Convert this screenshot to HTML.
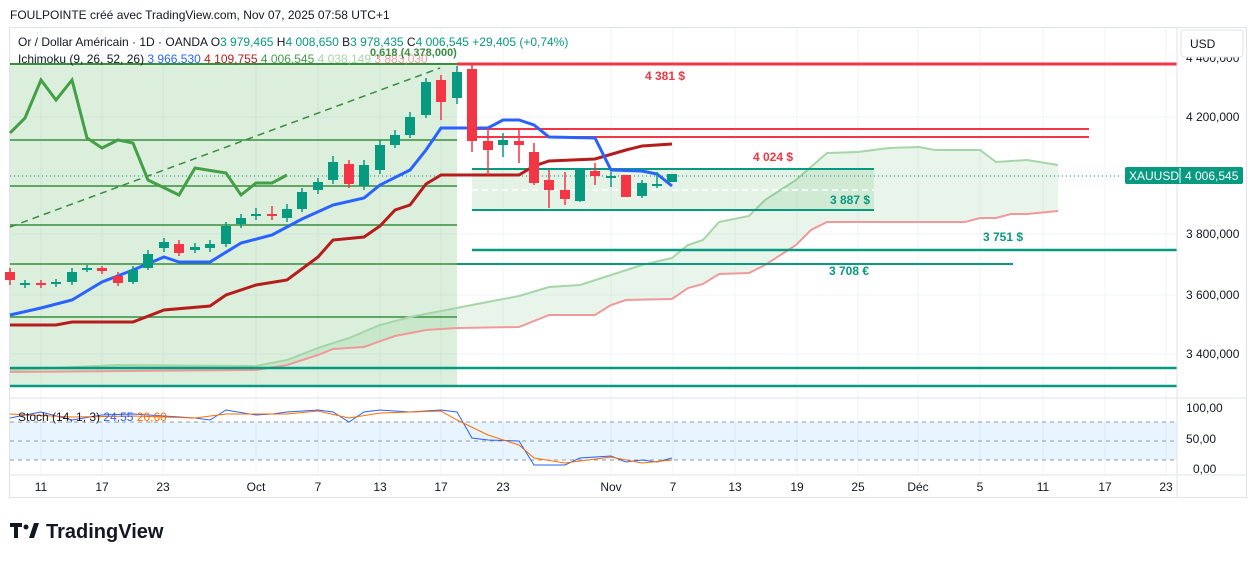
<!DOCTYPE html>
<html><head><meta charset="utf-8"><style>
body{margin:0;background:#fff;font-family:"Liberation Sans",sans-serif;}
svg{display:block}
</style></head><body>
<svg width="1257" height="561" xmlns="http://www.w3.org/2000/svg" font-family="Liberation Sans, sans-serif">
<rect width="1257" height="561" fill="#fff"/>
<text x="10" y="19" font-size="12" fill="#131722">FOULPOINTE créé avec TradingView.com, Nov 07, 2025 07:58 UTC+1</text>
<rect x="9.5" y="27.5" width="1237" height="470" fill="none" stroke="#e0e3eb"/>
<g stroke="#f0f3fa">
<line x1="41" y1="28" x2="41" y2="475"/><line x1="102" y1="28" x2="102" y2="475"/><line x1="163" y1="28" x2="163" y2="475"/><line x1="256" y1="28" x2="256" y2="475"/><line x1="318" y1="28" x2="318" y2="475"/><line x1="380" y1="28" x2="380" y2="475"/><line x1="441" y1="28" x2="441" y2="475"/><line x1="503" y1="28" x2="503" y2="475"/><line x1="611" y1="28" x2="611" y2="475"/><line x1="673" y1="28" x2="673" y2="475"/><line x1="735" y1="28" x2="735" y2="475"/><line x1="797" y1="28" x2="797" y2="475"/><line x1="858" y1="28" x2="858" y2="475"/><line x1="918" y1="28" x2="918" y2="475"/><line x1="980" y1="28" x2="980" y2="475"/><line x1="1043" y1="28" x2="1043" y2="475"/><line x1="1105" y1="28" x2="1105" y2="475"/><line x1="1166" y1="28" x2="1166" y2="475"/>
<line x1="10" y1="117" x2="1177" y2="117"/><line x1="10" y1="176" x2="1177" y2="176"/><line x1="10" y1="234" x2="1177" y2="234"/><line x1="10" y1="295" x2="1177" y2="295"/><line x1="10" y1="354" x2="1177" y2="354"/>
</g>
<!-- left shaded region -->
<rect x="10" y="64" width="447" height="323" fill="rgba(76,175,80,0.2)"/>
<g stroke="#388e3c" stroke-width="1.5">
<line x1="10" y1="140" x2="457" y2="140"/><line x1="10" y1="186" x2="457" y2="186"/><line x1="10" y1="225" x2="457" y2="225"/><line x1="10" y1="264" x2="457" y2="264"/><line x1="10" y1="317" x2="457" y2="317"/><line x1="10" y1="64" x2="457" y2="64" stroke-width="2"/>
</g>
<line x1="10" y1="227" x2="440" y2="68" stroke="#388e3c" stroke-width="1.5" stroke-dasharray="7,5"/>
<!-- cloud -->
<polygon fill="rgba(76,175,80,0.12)" points="10,370 118,365 256,366 287,360 318,348 349,338 380,325 410,317 441,311 472,305 519,296 549,287 580,285 611,275 642,265 672,258 688,245 703,240 719,222 749,216 765,200 796,180 827,153 858,152 889,148 919,147 935,150 980,150 996,162 1027,160 1058,165 1058,211 1027,214 1011,214 996,218 980,218 965,222 827,222 811,230 796,245 765,265 749,273 719,274 703,284 688,288 672,299 626,300 611,305 595,315 549,315 519,327 457,328 426,330 395,336 364,347 333,349 318,355 287,365 256,370 10,372"/>
<polyline fill="none" stroke="#a5d6a7" stroke-width="2" points="10,370 118,365 256,366 287,360 318,348 349,338 380,325 410,317 441,311 472,305 519,296 549,287 580,285 611,275 642,265 672,258 688,245 703,240 719,222 749,216 765,200 796,180 827,153 858,152 889,148 919,147 935,150 980,150 996,162 1027,160 1058,165"/>
<polyline fill="none" stroke="#ef9a9a" stroke-width="2" points="10,372 256,370 287,365 318,355 333,349 364,347 395,336 426,330 457,328 519,327 549,315 595,315 611,305 626,300 672,299 688,288 703,284 719,274 749,273 765,265 796,245 811,230 827,222 965,222 980,218 996,218 1011,214 1027,214 1058,211"/>
<!-- zones -->
<rect x="472" y="169" width="402" height="41" fill="rgba(76,175,80,0.15)"/>
<line x1="472" y1="169" x2="874" y2="169" stroke="#089981" stroke-width="2"/>
<line x1="472" y1="210" x2="874" y2="210" stroke="#089981" stroke-width="2"/>
<line x1="472" y1="190" x2="874" y2="190" stroke="#fff" stroke-width="1.5" stroke-dasharray="6,4"/>
<line x1="457" y1="64" x2="1177" y2="64" stroke="#f23645" stroke-width="3"/>
<line x1="472" y1="129" x2="1089" y2="129" stroke="#f23645" stroke-width="2"/>
<line x1="472" y1="137" x2="1089" y2="137" stroke="#f23645" stroke-width="2"/>
<line x1="472" y1="250" x2="1177" y2="250" stroke="#089981" stroke-width="2.5"/>
<line x1="457" y1="264" x2="1013" y2="264" stroke="#089981" stroke-width="2"/>
<line x1="10" y1="368" x2="1177" y2="368" stroke="#089981" stroke-width="2.5"/>
<line x1="10" y1="386" x2="1177" y2="386" stroke="#089981" stroke-width="2.5"/>
<line x1="10" y1="176" x2="1122" y2="176" stroke="#089981" stroke-dasharray="1,3"/>
<g font-size="12" font-weight="bold">
<text x="645" y="80" fill="#f23645">4 381 $</text>
<text x="753" y="161" fill="#f23645">4 024 $</text>
<text x="830" y="204" fill="#089981">3 887 $</text>
<text x="983" y="241" fill="#089981">3 751 $</text>
<text x="829" y="275" fill="#089981">3 708 €</text>
</g>
<!-- ichimoku lines -->
<polyline fill="none" stroke="#43a047" stroke-width="3" points="10,133 25,118 41,80 56,100 72,80 87,138 102,148 118,140 133,143 148,180 179,195 195,168 226,173 241,195 256,183 272,183 287,175"/>
<polyline fill="none" stroke="#b71c1c" stroke-width="3" points="10,325 56,325 72,322 133,322 164,310 210,306 226,295 256,285 287,280 318,257 333,240 364,237 380,226 395,210 410,205 426,184 441,175 519,175 534,166 549,161 595,159 626,150 642,146 672,144"/>
<polyline fill="none" stroke="#2962ff" stroke-width="3" points="10,315 41,308 72,300 102,282 133,270 164,257 179,262 210,262 241,243 272,235 302,219 333,205 364,198 380,185 410,170 426,150 441,128 457,128 488,128 503,120 519,120 534,125 549,137 595,138 611,170 642,171 657,174 672,186"/>
<!-- candles -->
<g id="c"></g>
<!-- stoch -->
<line x1="10" y1="398" x2="1247" y2="398" stroke="#e0e3eb"/>
<rect x="10" y="422" width="1167" height="38" fill="rgba(33,150,243,0.1)"/>
<g stroke="#9598a1" stroke-dasharray="4,4"><line x1="10" y1="422" x2="1177" y2="422"/><line x1="10" y1="441" x2="1177" y2="441"/><line x1="10" y1="460" x2="1177" y2="460"/></g>
<polyline fill="none" stroke="#2962ff" stroke-width="1" points="10,418 41,412 72,420 102,415 133,414 164,416 195,418 210,420 226,410 256,415 272,414 287,412 318,410 333,412 349,422 364,412 380,410 410,412 441,410 457,412 472,438 488,440 519,441 534,465 565,465 580,458 611,456 626,462 642,460 657,462 672,458"/>
<polyline fill="none" stroke="#ff6d00" stroke-width="1" points="10,414 72,417 133,416 195,418 226,414 287,414 318,411 349,418 380,413 441,411 457,420 488,435 519,445 534,458 565,463 611,457 642,463 672,460"/>
<text x="18" y="421" font-size="12" fill="#131722">Stoch (14, 1, 3) <tspan fill="#2962ff">24,55</tspan> <tspan fill="#ff6d00">20,60</tspan></text>
<!-- axes -->
<line x1="1177" y1="28" x2="1177" y2="497" stroke="#e0e3eb"/>
<line x1="10" y1="475" x2="1247" y2="475" stroke="#e0e3eb"/>
<g font-size="12" fill="#131722">
<text x="1186" y="121">4 200,000</text><text x="1186" y="238">3 800,000</text><text x="1186" y="299">3 600,000</text><text x="1186" y="358">3 400,000</text><text x="1186" y="62">4 400,000</text>
<text x="1186" y="412">100,00</text><text x="1186" y="443">50,00</text><text x="1193" y="473">0,00</text>
</g>
<rect x="1181" y="30" width="62" height="27" rx="3" fill="#fff" stroke="#e0e3eb"/>
<text x="1190" y="48" font-size="12" fill="#131722">USD</text>
<rect x="1125" y="167" width="118" height="17" rx="2" fill="#089981"/>
<text x="1129" y="180" font-size="12" fill="#fff">XAUUSD</text><line x1="1180" y1="168" x2="1180" y2="183" stroke="#fff"/><text x="1185" y="180" font-size="12" fill="#fff">4 006,545</text>
<g font-size="12" fill="#131722" text-anchor="middle">
<text x="41" y="491">11</text><text x="102" y="491">17</text><text x="163" y="491">23</text><text x="256" y="491">Oct</text><text x="318" y="491">7</text><text x="380" y="491">13</text><text x="441" y="491">17</text><text x="503" y="491">23</text><text x="611" y="491">Nov</text><text x="673" y="491">7</text><text x="735" y="491">13</text><text x="797" y="491">19</text><text x="858" y="491">25</text><text x="918" y="491">Déc</text><text x="980" y="491">5</text><text x="1043" y="491">11</text><text x="1105" y="491">17</text><text x="1166" y="491">23</text>
</g>
<!-- legend -->
<text x="18" y="46" font-size="12" fill="#131722">Or / Dollar Américain · 1D · OANDA  O<tspan fill="#089981">3 979,465</tspan>  H<tspan fill="#089981">4 008,650</tspan>  B<tspan fill="#089981">3 978,435</tspan>  C<tspan fill="#089981">4 006,545  +29,405 (+0,74%)</tspan></text>
<text x="18" y="63" font-size="12" fill="#131722">Ichimoku (9, 26, 52, 26) <tspan fill="#2962ff">3 966,530</tspan> <tspan fill="#b71c1c">4 109,755</tspan> <tspan fill="#43a047">4 006,545</tspan> <tspan fill="#a5d6a7">4 038,149</tspan> <tspan fill="#ef9a9a">3 883,030</tspan></text>
<text x="370" y="56" font-size="11" font-weight="bold" fill="#388e3c">0,618 (4 378,000)</text>
<!-- logo -->
<g fill="#131722"><rect x="10" y="523" width="12" height="4"/><rect x="14" y="523" width="4" height="15"/><circle cx="26" cy="527" r="2.5"/><polygon points="29,538 34,523 39,523 34,538"/></g>
<text x="46" y="538" font-size="20" font-weight="bold" fill="#131722">TradingView</text>
</svg>
<script>
var d=[[10,272,280,268,285],[25,285,283,280,288],[41,283,285,280,288],[56,284,282,279,287],[72,282,272,268,285],[87,270,268,265,272],[102,268,271,266,274],[118,276,283,272,286],[133,282,270,266,284],[148,268,254,250,270],[164,248,242,238,252],[179,244,253,240,256],[195,250,247,243,253],[210,248,244,240,252],[226,244,226,222,247],[241,224,218,214,228],[256,216,214,208,220],[272,214,216,206,220],[287,218,209,204,222],[302,209,192,188,212],[318,190,182,178,194],[333,180,162,156,184],[349,164,184,160,188],[364,186,165,160,190],[380,170,145,140,174],[395,145,135,130,148],[410,135,117,112,138],[426,115,82,78,118],[441,80,102,75,120],[457,98,72,66,104],[472,69,141,65,152],[488,141,150,128,175],[503,145,140,133,157],[519,141,145,130,163],[534,152,183,143,185],[549,180,190,170,208],[565,190,199,172,205],[580,201,168,168,202],[595,171,176,163,185],[611,178,176,172,187],[626,175,197,175,197],[642,196,183,180,198],[657,186,184,172,188],[672,182,174,174,182]];
var g=document.getElementById('c'),s='';
d.forEach(function(c){var up=c[2]<=c[1],col=up?'#089981':'#f23645',t=Math.min(c[1],c[2]),h=Math.max(2,Math.abs(c[2]-c[1]));
s+='<line x1="'+c[0]+'" x2="'+c[0]+'" y1="'+c[3]+'" y2="'+c[4]+'" stroke="'+col+'" stroke-width="1.5"/><rect x="'+(c[0]-5)+'" y="'+t+'" width="10" height="'+h+'" fill="'+col+'"/>';});
g.innerHTML=s;
</script>
</body></html>
